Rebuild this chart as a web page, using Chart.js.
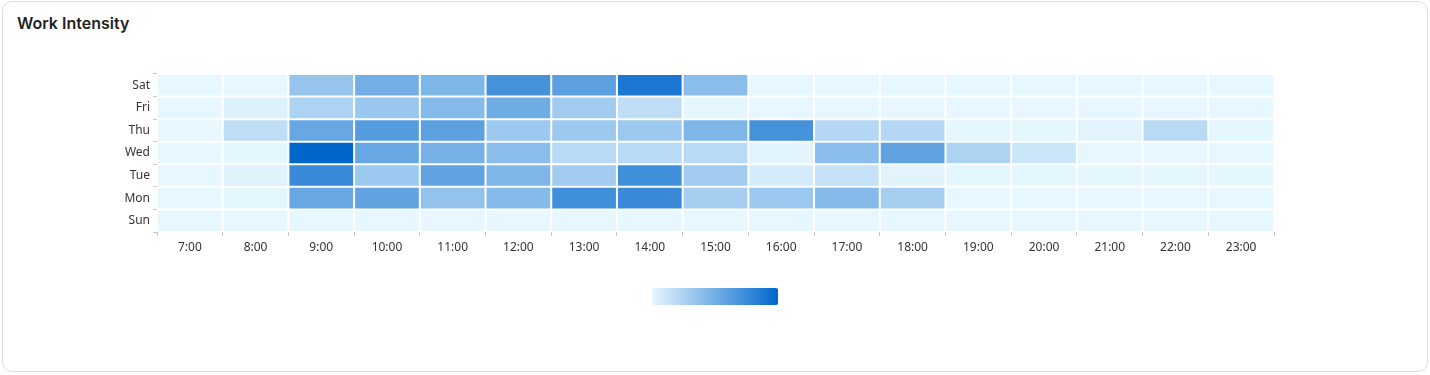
<!DOCTYPE html>
<html lang="en">
<head>
    <meta charset="UTF-8">
    <title>Work Intensity</title>
    <script src="https://cdn.jsdelivr.net/npm/chart.js"></script>
    <style>
        html, body { margin: 0; padding: 0; background: #fff; }
        body { width: 1430px; height: 375px; position: relative; overflow: hidden; font-family: Inter, "Noto Sans", sans-serif; }
        .card { position: absolute; left: 2px; top: 1px; width: 1426px; height: 371px; box-sizing: border-box; border: 1px solid #dedede; border-radius: 10px; }
        .title { position: absolute; left: 17px; top: 13px; font-size: 16px; font-weight: 600; color: #1f1f1f; line-height: 20px; }
        #heatChart { position: absolute; left: 0; top: 40px; }
        .scale-bar { position: absolute; left: 652px; top: 288px; width: 126px; height: 17px; border-radius: 2px;
            background: linear-gradient(to right, #e6f7ff, #0066cc); }
    </style>
</head>
<body>
    <div class="card"></div>
    <div class="title">Work Intensity</div>
    <canvas id="heatChart" width="1430" height="222"></canvas>
    <div class="scale-bar"></div>

    <script>
        // Heatmap data (0 = no work, 100 = max)
        const hours = ['7:00', '8:00', '9:00', '10:00', '11:00', '12:00', '13:00', '14:00', '15:00',
                       '16:00', '17:00', '18:00', '19:00', '20:00', '21:00', '22:00', '23:00'];
        const days = ['Sun', 'Mon', 'Tue', 'Wed', 'Thu', 'Fri', 'Sat'];

        const sunValues = [0, 0, 0, 0, 0, 0, 0, 0, 0, 0, 0, 0, 0, 0, 0, 0, 0];
        const monValues = [0, 1, 55, 58, 36, 42, 72, 75, 28, 32, 42, 28, 0, 0, 0, 0, 0];
        const tueValues = [0, 3, 75, 32, 58, 45, 30, 72, 30, 8, 15, 2, 1, 1, 1, 1, 1];
        const wedValues = [0, 1, 100, 55, 48, 40, 20, 20, 20, 2, 40, 58, 25, 12, 0, 0, 0];
        const thuValues = [0, 17, 55, 63, 60, 32, 32, 32, 45, 70, 22, 22, 1, 1, 2, 20, 1];
        const friValues = [0, 4, 25, 33, 42, 52, 30, 17, 1, 0, 0, 0, 0, 0, 0, 0, 0];
        const satValues = [0, 0, 35, 50, 45, 70, 60, 88, 40, 0, 0, 0, 0, 0, 0, 0, 0];

        const dayValues = [sunValues, monValues, tueValues, wedValues, thuValues, friValues, satValues];
        const maxValue = 100;

        // colour between #e6f7ff and #0066cc
        const lowColor = [230, 247, 255];
        const highColor = [0, 102, 204];
        function cellColor(v) {
            const t = Math.max(0, Math.min(1, v / maxValue));
            const c = lowColor.map((lo, i) => Math.round(lo + (highColor[i] - lo) * t));
            return 'rgb(' + c.join(',') + ')';
        }

        // one dataset per day, each cell is a floating bar [d, d+1]
        const datasets = days.map((day, d) => ({
            label: day,
            data: dayValues[d].map(() => [d, d + 1]),
            backgroundColor: dayValues[d].map(cellColor),
            borderColor: '#ffffff',
            borderWidth: 1,
            borderSkipped: false,
            inflateAmount: 0,
            barPercentage: 1,
            categoryPercentage: 1,
            grouped: false,
            yAxisID: 'y'
        }));

        const ctx = document.getElementById('heatChart').getContext('2d');
        new Chart(ctx, {
            type: 'bar',
            data: { labels: hours, datasets: datasets },
            options: {
                responsive: false,
                animation: false,
                layout: { padding: { left: 0, right: 156, top: 34, bottom: 0 } },
                plugins: {
                    legend: { display: false },
                    tooltip: { enabled: false }
                },
                scales: {
                    x: {
                        offset: true,
                        grid: { offset: true, drawOnChartArea: false, tickLength: 4, color: '#c8c8c8' },
                        border: { display: false },
                        ticks: { color: '#333', padding: 4, font: { family: 'Noto Sans', size: 12 } },
                        afterFit: function(scale) { scale.height = 30; }
                    },
                    y: {
                        type: 'linear',
                        display: false,
                        min: 0,
                        max: 7
                    },
                    yd: {
                        type: 'category',
                        position: 'left',
                        labels: days,
                        reverse: true,
                        offset: true,
                        grid: { offset: true, drawOnChartArea: false, tickLength: 4, color: '#c8c8c8' },
                        border: { display: false },
                        ticks: { color: '#333', padding: 3, font: { family: 'Noto Sans', size: 12 } },
                        afterFit: function(scale) { scale.width = 157; }
                    }
                }
            }
        });
    </script>
</body>
</html>
